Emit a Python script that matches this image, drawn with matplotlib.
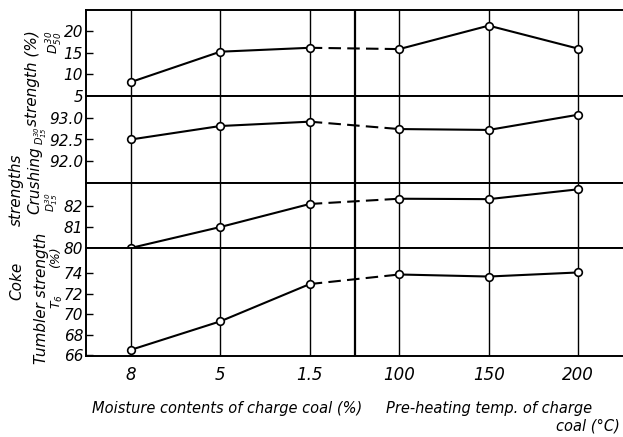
import matplotlib
matplotlib.use("Agg")
import matplotlib.pyplot as plt

# x categories: moisture (%) then pre-heating temp (°C)
x_labels = ["8", "5", "1.5", "100", "150", "200"]

# D30/50 strength (%)
drum_d50 = [8.2, 15.2, 16.1, 15.8, 21.2, 15.9]
# D30/15 crushing strength (upper)
crush_a = [92.50, 92.81, 92.91, 92.74, 92.72, 93.07]
# D30/15 (lower panel)
crush_b = [80.0, 81.0, 82.1, 82.35, 82.33, 82.8]
# tumbler strength T6 (%)
tumbler = [66.5, 69.3, 72.96, 73.9, 73.7, 74.1]

panel_ticks = [
    [5, 10, 15, 20],
    [92.0, 92.5, 93.0],
    [80, 81, 82],
    [66, 68, 70, 72, 74],
]
panel_ticklabels = [
    ["5", "10", "15", "20"],
    ["92.0", "92.5", "93.0"],
    ["80", "81", "82"],
    ["66", "68", "70", "72", "74"],
]
panel_lims = [(5, 24.8), (91.5, 93.5), (80, 83.1), (65.9, 76.5)]

plt.rcParams["font.family"] = "DejaVu Sans"
plt.rcParams["font.style"] = "italic"

fig = plt.figure(figsize=(6.23, 4.37), dpi=100)
gs = fig.add_gridspec(4, 1, height_ratios=[86, 87, 65, 108], hspace=0,
                      left=86 / 623, right=1.0, top=1 - 10 / 437, bottom=1 - 356 / 437)

series = [drum_d50, crush_a, crush_b, tumbler]
xs = list(range(len(x_labels)))
axes = []
for i, vals in enumerate(series):
    ax = fig.add_subplot(gs[i])
    axes.append(ax)
    for xv in xs:
        ax.axvline(xv, color="black", lw=1.0, zorder=1)
    ax.axvline(2.5, color="black", lw=1.6, zorder=1)
    # solid - dashed - solid
    ax.plot(xs[:3], vals[:3], color="black", lw=1.5, zorder=2)
    ax.plot(xs[2:4], vals[2:4], color="black", lw=1.5, ls=(0, (6, 3)), zorder=2)
    ax.plot(xs[3:], vals[3:], color="black", lw=1.5, zorder=2)
    ax.plot(xs, vals, ls="none", marker="o", ms=5.5, mfc="white", mec="black",
            mew=1.2, zorder=3)
    ax.set_xlim(-0.5, 5.5)
    ax.set_ylim(*panel_lims[i])
    ax.set_yticks(panel_ticks[i])
    ax.set_yticklabels(panel_ticklabels[i], fontsize=11)
    ax.tick_params(axis="y", direction="in", length=5, width=1.0, pad=2)
    ax.spines["right"].set_visible(False)
    for s in ["top", "bottom", "left"]:
        ax.spines[s].set_linewidth(1.4)
    if i < 3:
        ax.set_xticks([])
    else:
        ax.set_xticks(xs)
        ax.set_xticklabels(x_labels, fontsize=12)
        ax.tick_params(axis="x", length=0, pad=7)

# y-axis labels
fig.text(33 / 623, 1 - 78 / 437, "strength (%)", rotation=90, fontsize=11,
         ha="center", va="center")
fig.text(55 / 623, 1 - 42 / 437, r"$D^{30}_{50}$", rotation=90, fontsize=9,
         ha="center", va="center")
fig.text(35 / 623, 1 - 180 / 437, "Crushing", rotation=90, fontsize=11,
         ha="center", va="center")
fig.text(41 / 623, 1 - 136 / 437, r"$D^{30}_{15}$", rotation=90, fontsize=7,
         ha="center", va="center")
fig.text(52 / 623, 1 - 202 / 437, r"$D^{30}_{15}$", rotation=90, fontsize=7.5,
         ha="center", va="center")
fig.text(16 / 623, 1 - 190 / 437, "strengths", rotation=90, fontsize=11,
         ha="center", va="center")
fig.text(17 / 623, 1 - 281 / 437, "Coke", rotation=90, fontsize=11,
         ha="center", va="center")
fig.text(42 / 623, 1 - 298 / 437, "Tumbler strength", rotation=90, fontsize=11,
         ha="center", va="center")
fig.text(56 / 623, 1 - 257 / 437, "(%)", rotation=90, fontsize=9,
         ha="center", va="center")
fig.text(57 / 623, 1 - 302 / 437, r"$T_6$", rotation=90, fontsize=9,
         ha="center", va="center")

# x-axis titles
fig.text(227 / 623, 1 - 408 / 437, "Moisture contents of charge coal (%)",
         fontsize=10.5, ha="center", va="center")
fig.text(592 / 623, 1 - 408 / 437, "Pre-heating temp. of charge",
         fontsize=10.5, ha="right", va="center")
fig.text(620 / 623, 1 - 426 / 437, "coal (°C)",
         fontsize=10.5, ha="right", va="center")

fig.savefig("out.png", dpi=100)
